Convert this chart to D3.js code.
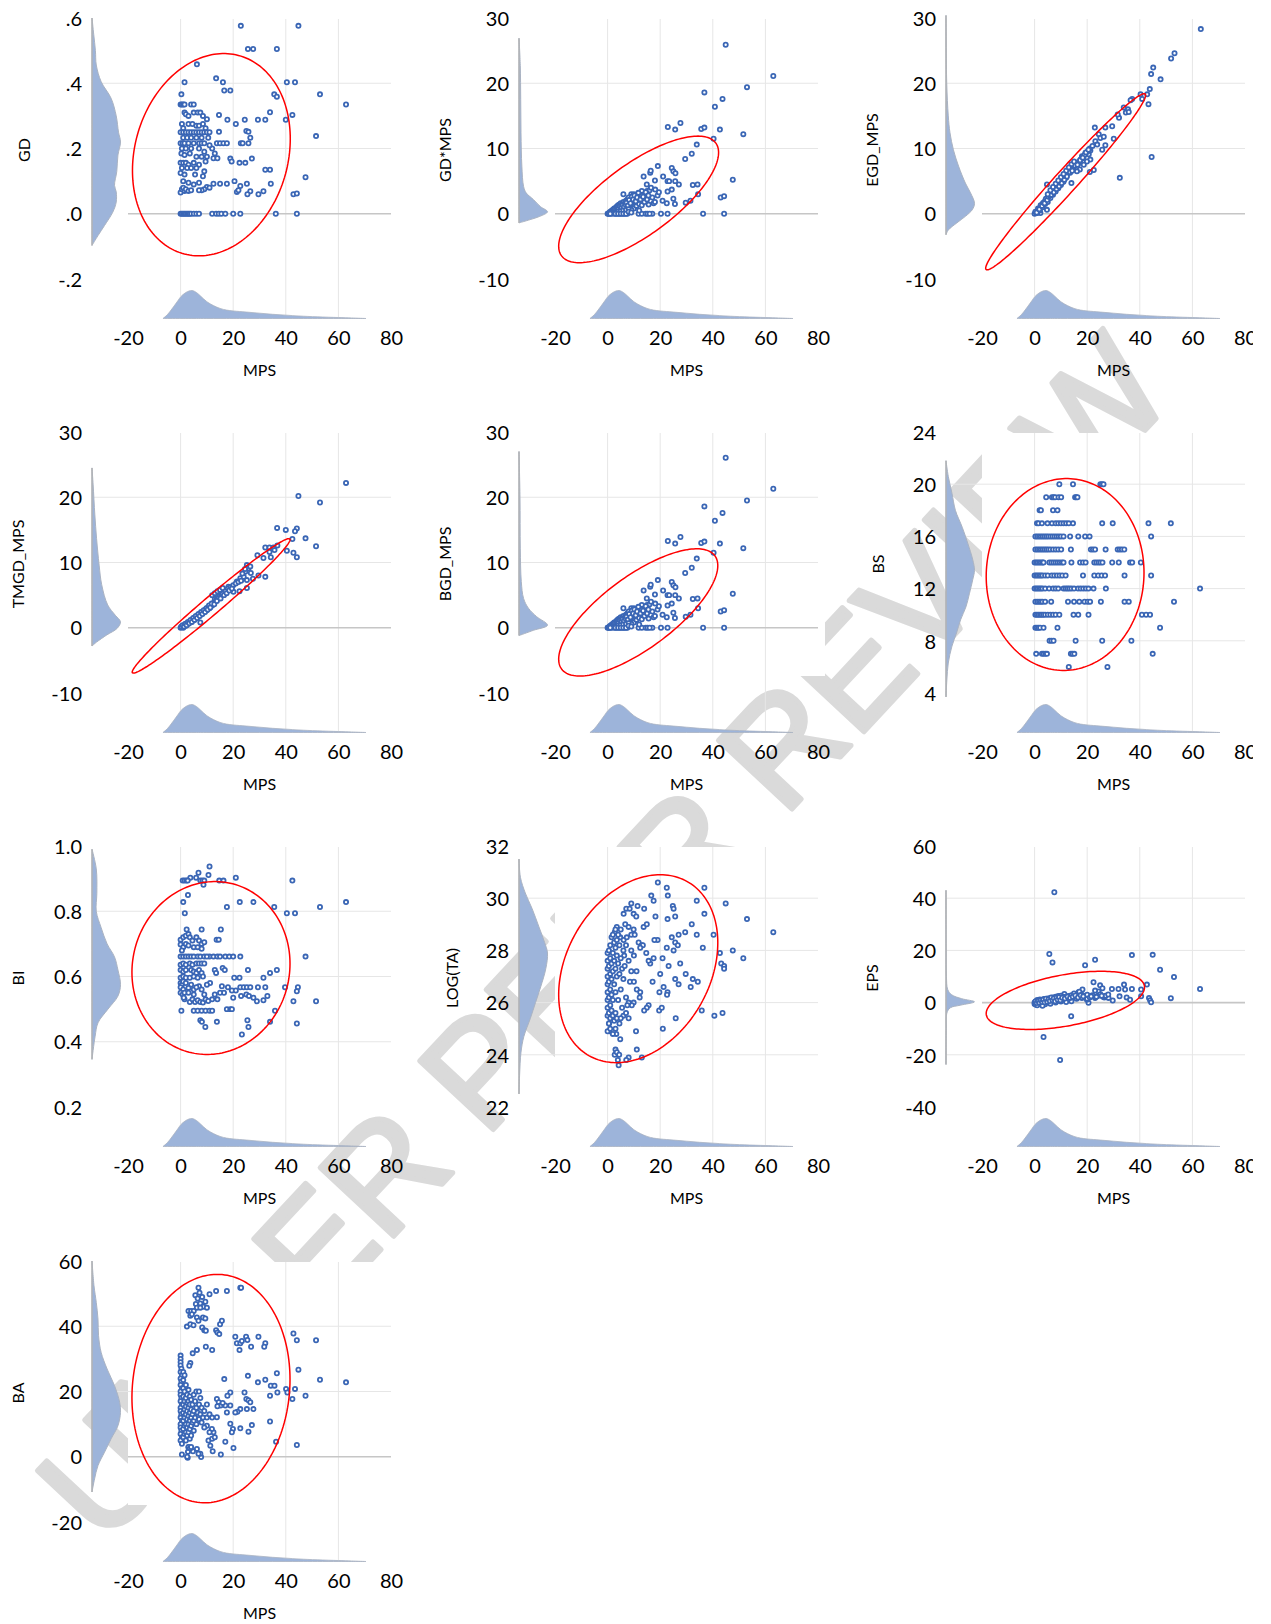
<!DOCTYPE html>
<html><head><meta charset="utf-8">
<script src="https://cdn.jsdelivr.net/npm/d3@7"></script>
<style>
body{margin:0;background:#fff}
svg{display:block}
</style>
</head><body>
<svg id="chart" width="1271" height="1624"></svg>
<script>
// ---------------- DATA ----------------
const VAR_NAMES = ["GD","GD*MPS","EGD_MPS","TMGD_MPS","BGD_MPS","BS","BI","LOG(TA)","EPS","BA"];
const X_NAME = "MPS";
const MPS_TICKS = [-20,0,20,40,60,80];

const GD_TICKS = [-0.2,0,0.2,0.4,0.6];
const GD_TICK_LABELS = ["-.2",".0",".2",".4",".6"];
const GDMPS_TICKS = [-10,0,10,20,30];
const EGD_TICKS = [-10,0,10,20,30];
const TMGD_TICKS = [-10,0,10,20,30];
const BGD_TICKS = [-10,0,10,20,30];
const BS_TICKS = [4,8,12,16,20,24];
const BI_TICKS = [0.2,0.4,0.6,0.8,1.0];
const BI_TICK_LABELS = ["0.2","0.4","0.6","0.8","1.0"];
const LOGTA_TICKS = [22,24,26,28,30,32];
const EPS_TICKS = [-40,-20,0,20,40,60];
const BA_TICKS = [-20,0,20,40,60];

// marginal density of MPS (value, relative density)
const MPS_DENSITY = [[-6.7,0],[-5,0.14],[-3,0.38],[-1,0.64],[0,0.77],[2,0.93],[4.3,1],[6,0.93],[7.5,0.81],[10,0.6],[12.5,0.46],[15,0.36],[17.5,0.3],[20,0.27],[25,0.23],[30,0.19],[35,0.15],[40,0.12],[45,0.09],[52,0.06],[60,0.035],[65,0.02],[70.5,0]];

// marginal densities of the y variables (value, relative density)
const GD_DENSITY = [[0.6,0],[0.55,0.06],[0.5,0.12],[0.456,0.15],[0.405,0.32],[0.354,0.67],[0.3,0.85],[0.25,0.93],[0.22,1],[0.18,0.91],[0.13,0.87],[0.087,0.79],[0.067,0.85],[0.036,0.85],[0.005,0.73],[-0.036,0.44],[-0.067,0.21],[-0.097,0]];
const GDMPS_DENSITY = [[26.9,0],[22.7,0.045],[17.5,0.06],[12.4,0.07],[7.3,0.1],[4.2,0.16],[3.2,0.25],[2.2,0.5],[1.1,0.75],[0.3,1],[-0.4,0.73],[-0.9,0.39],[-1.4,0]];
const EGD_DENSITY = [[30.4,0],[20.1,0.025],[15,0.08],[12.4,0.14],[9.8,0.26],[7.3,0.44],[4.7,0.68],[3.2,0.86],[1.6,1],[0.6,0.92],[-0.4,0.68],[-1.4,0.38],[-2.5,0.08],[-3.2,0]];
const TMGD_DENSITY = [[24.5,0],[21.9,0.04],[17.3,0.1],[13.7,0.16],[9.6,0.25],[6.6,0.34],[3.5,0.55],[1.9,0.82],[0.9,1],[-0.1,0.88],[-1.1,0.52],[-2.2,0.16],[-2.8,0]];
const BGD_DENSITY = [[27,0],[19.9,0.035],[12.2,0.045],[7.1,0.08],[4.5,0.16],[3,0.33],[1.7,0.62],[0.4,1],[-0.4,0.5],[-1.2,0]];
const BS_DENSITY = [[21.8,0],[20.6,0.08],[19.3,0.21],[18,0.33],[16.7,0.57],[15.5,0.76],[14.2,0.94],[13.4,1],[12.7,0.94],[11.6,0.82],[10.6,0.7],[9.6,0.51],[8.6,0.37],[7.6,0.21],[6.3,0.08],[5,0.03],[3.7,0]];
const BI_DENSITY = [[0.99,0],[0.93,0.15],[0.855,0.17],[0.8,0.15],[0.75,0.32],[0.7,0.53],[0.66,0.79],[0.62,0.91],[0.575,1],[0.54,0.91],[0.5,0.56],[0.458,0.21],[0.417,0.11],[0.346,0]];
const LOGTA_DENSITY = [[31.5,0],[30.8,0.05],[30.2,0.22],[29.6,0.46],[28.9,0.7],[28.3,0.9],[27.9,1],[27.3,0.94],[26.6,0.76],[26,0.58],[25.4,0.4],[24.7,0.17],[24.1,0.07],[23.2,0.02],[22.5,0]];
const EPS_DENSITY = [[43,0],[20,0.005],[10,0.015],[5,0.06],[3,0.2],[1.5,0.55],[0.3,1],[-1,0.5],[-2,0.15],[-4,0.03],[-10,0.01],[-23.7,0]];
const BA_DENSITY = [[60,0],[52.4,0.07],[47.3,0.15],[42.2,0.21],[37.1,0.23],[32,0.32],[26.9,0.53],[21.8,0.79],[16.7,0.97],[13.6,1],[9.5,0.91],[5.5,0.67],[1.4,0.44],[-2.7,0.21],[-6.8,0.09],[-10.8,0]];

// confidence ellipses: [centre MPS, centre Y, half-range MPS, half-range Y, correlation]
const GD_ELLIPSE = [11.7,0.181,30,0.31,0.157];
const GDMPS_ELLIPSE = [11.8,2.2,30.4,9.7,0.74];
const EGD_ELLIPSE = [11.8,4.9,30.4,13.5,0.982];
const TMGD_ELLIPSE = [11.6,3.35,30,10.3,0.985];
const BGD_ELLIPSE = [11.65,2.35,30.25,9.75,0.735];
const BS_ELLIPSE = [11.6,13.08,30,7.35,0.02];
const BI_ELLIPSE = [11.55,0.626,30.05,0.265,0.05];
const LOGTA_ELLIPSE = [11.65,27.3,30.25,3.6,0.276];
const EPS_ELLIPSE = [11.7,0.85,30.1,11.15,0.45];
const BA_ELLIPSE = [11.55,20.9,30.05,35,0.08];

// scatter points [MPS, Y]
const GD_PTS = [
[22.9,.576],[44.8,.576],[25.6,.505],[27.6,.505],[36.6,.505],[6.2,.458],[1.5,.403],[13.5,.415],[16.1,.403],[16.6,.378],[18.9,.378],[40.4,.403],[43.5,.403],[0.3,.366],[35.6,.366],[36.6,.359],[53,.366],[62.9,.335],[14.6,.303],[17.8,.288],[21,.275],[24.4,.288],[29.4,.288],[32.2,.288],[34,.311],[40,.288],[42.5,.303],[51.5,.238],[47.5,.112],[42.9,.06],[44.2,.062],[36.2,0],[44.2,0],[20,0],[22.7,0],[12,0],[13.5,0],[14.5,0],[15.5,0],[17,0],
[0,0],[0.5,0],[1,0],[1.5,0],[2,0],[2.5,0],[3,0],[3.5,0],[4,0],[5,0],[6,0],[7,0],
[14.6,.251],[25,.254],[25.8,.251],[26.5,.233],[22.9,.216],[23.6,.216],[25.8,.216],[13.8,.216],[15,.216],[16.3,.216],[17.6,.216],[18.9,.169],[19.4,.16],[22.4,.156],[24.6,.156],[27.1,.169],[32.2,.135],[34,.135],[34.3,.092],[31.5,.069],[29.6,.06],[26.5,.069],[25.4,.06],[25.2,.092],[22.7,.085],[20.5,.1],[21.4,.067],[22,.072],[17.6,.092],[15,.092],[12.5,.092],[10,.082],[11,.08],[9,.075],[8,.072],[7,.072],[13,.185],[12.5,.17],[14,.17],[12,.2],[11,.21],
[0,.335],[0.5,.335],[1,.335],[1.5,.335],[4,.335],[5,.335],
[1.5,.31],[2,.305],[3,.3],[5,.31],[6.5,.31],[7.5,.31],[8.5,.3],[10,.29],
[0.5,.275],[1,.262],[3,.275],[4.5,.275],[6,.27],[7,.27],[8.5,.275],[9.5,.262],
[0,.25],[1,.25],[2,.25],[3,.25],[4,.25],[5,.25],[6,.25],[7,.25],[8,.25],[9,.25],[10,.25],[11,.25],
[1,.233],[2.5,.233],[4,.233],[6,.233],[8,.233],[10.5,.233],
[0,.216],[0.8,.216],[1.5,.216],[3,.216],[5,.216],[7,.216],[8,.216],[9,.216],
[0.5,.2],[2,.2],[4,.2],[7,.2],[9,.19],
[0.3,.185],[1.5,.18],[3.5,.185],[6,.175],[8,.175],[10,.175],
[0,.156],[1,.156],[2,.156],[3,.15],[5,.156],[7,.15],[9.5,.16],
[0.5,.14],[2.5,.14],[4,.14],[6,.14],[9,.13],
[0,.125],[1.5,.12],[5.5,.12],[8.5,.115],
[1,.1],[3,.095],[5,.09],[7,.095],
[0,.065],[0.5,.075],[1,.08],[1.5,.07],[2,.075],[3,.07],[4,.072]
];

const GDMPS_PTS = [
[44.9,25.9],[63,21.1],[53,19.4],[36.8,18.6],[43.7,17.6],[40.8,16.4],[27.7,13.9],[22.9,13.3],[25.7,12.9],[35.6,13],[36.8,13.2],[42.7,12.9],[51.6,12.2],[40.3,11.5],[33.9,10.6],[32,9.2],[29.5,8.4],[47.6,5.2],[43,2.5],[44.3,2.7],[36.3,0],[44.3,0],[32.4,4.4],[34.2,4.5],[34.4,3],[31.5,2],[29.7,1.7],[27.1,4.5],[25.7,5],[24.4,7],[25,6.5],[25.8,6.2],[22.8,5],[23.4,5],[21.1,5.7],[19.1,7.3],[18,5.1],[16.2,6.3],[16.4,6.6],[13.7,5.7],[14.9,4.5],[22.8,3.4],[24.4,3.7],[25,2.3],[25.6,1.5],[22.5,1.6],[20.9,2],[19,2.8],[19.5,3.3],[17.5,1.6],[15.6,1.4],[18.1,3.7],[17,0],[20.3,0],[22.8,0],[11.8,0],[13,0],[14.5,0],[15.2,0],[16,0],
[0,0],[0.5,0.05],[1,0.1],[1,0.3],[1.5,0.2],[1.5,0.45],[2,0.3],[2,0.6],[2.5,0.5],[2.5,0.8],[3,0.4],[3,0.9],[3.5,0.7],[3.5,1.1],[4,0.5],[4,1],[4,1.3],[4.5,0.9],[4.5,1.4],[5,0.7],[5,1.2],[5,1.6],[5.5,1],[5.5,1.5],[6,0.8],[6,1.3],[6,1.8],[6.5,1.1],[6.5,1.6],[7,1.2],[7,2],[7.5,1.5],[7.5,2.2],[8,1.1],[8,1.8],[8,2.5],[8.5,2],[9,1.5],[9,2.3],[9,3],[9.5,2.7],[10,2],[10,2.5],[10,3],[11,2.2],[11,2.8],[12,2.5],[12,3.1],[13,2.8],[13,3.5],[14,3],[15,3.5],[16,3.6],[16.5,4],[6,3],[0.5,0],[1.5,0],[2.5,0],[3.5,0],[4.5,0],[5.5,0],[6.5,0],[7.5,0],[10,0.8],[11,1.2],[12,1.5],[13,1.3],[14,1.8],[15,2.2],[17,2.5],[18,1.8],[12,0.5],[9,0.6],
[0.2,0.02],[0.7,0.15],[1.2,0.2],[1.7,0.35],[2.2,0.4],[2.7,0.65],[3.2,0.6],[3.7,0.9],[4.2,0.75],[4.7,1.15],[5.2,0.95],[5.7,1.3],[6.2,1.05],[6.7,1.45],[7.2,1.7],[7.7,1.25],[8.2,2.1],[8.7,1.6],[9.2,2.6],[9.7,2.2],[10.2,2.8],[10.7,1.9],[11.2,2.5],[11.7,3.2],[12.5,2.2],[13.5,2.6],[14.5,3.3],[15.5,2.8],[3,0.2],[4,0.3],[5,0.4],[6,0.5],[7,0.6],[8,0.7],[2,0.1],[1,0],[3,0],[4,0],[5,0],[6,0],[7,0],[8,0.3],[9,0.2]
];

const EGD_PTS = [
[63.2,28.3],[53.2,24.6],[51.9,23.8],[45.1,22.4],[44.3,21.4],[47.9,20.6],[40.3,18.3],[40.9,17.6],[42.8,18.3],[43.8,19.1],[43.3,16.8],[44.5,8.7],[32.4,5.5],[37.1,17.6],[36.5,17.4],[35.5,16],[33.9,16.3],[34.7,15.5],[35.8,15.6],[32.1,14.7],[31.6,15.2],[29.5,13.4],[26.9,13.2],[22.9,13.2],[24.4,12.2],[25,11.6],[26.3,11.8],[30.1,11.5],[26.9,10.5],[25.7,9.8],[23.1,11.1],[23.8,10.6],[21.2,9.7],[20.6,9.1],[19.3,9.3],[21.2,8.3],[22.5,6.7],[21,6.4],[19.9,8],[18.7,7.5],[17.2,6.8],[16.1,6.5],[14,4.7],[4.7,4.5],[2.2,0.1],[4.7,0.6],
[0,0],[0.5,0.2],[1,0.4],[1,0.1],[1.5,0.6],[2,0.9],[2,0.5],[2.5,1],[3,1.5],[3,1],[3.5,1.5],[4,2],[4,1.5],[4.5,2.2],[5,2.5],[5,1.8],[5.5,2.7],[6,3],[6,2.4],[6.5,3.2],[7,3.5],[7,2.9],[7.5,3.6],[8,4],[8,3.4],[8.5,4.1],[9,4.5],[9,3.9],[9.5,4.6],[10,5],[10,4.4],[10.5,5.2],[11,5.5],[11,4.9],[12,6],[12,5.5],[12.5,6.2],[13,6.5],[13.5,6.3],[14,7],[14.5,6.8],[15,7.2],[15.5,7.5],[16,7.8],[16.5,7.6],[17,8],[17.5,8.3],[18,8.8],[18.5,8.5],[19,9],[20,9.5],[21,10],[22,10.4],
[0.3,0.3],[0.8,0.2],[1.3,0.8],[1.8,0.7],[2.3,1.3],[2.8,1.2],[3.3,1.7],[3.8,1.6],[4.3,2.3],[4.8,2.1],[5.3,2.6],[5.8,2.8],[6.3,2.9],[6.8,3.4],[7.3,3.3],[7.8,3.9],[8.3,3.8],[8.8,4.3],[9.3,4.2],[9.8,4.8],[10.3,4.7],[10.8,5.3],[11.3,5.2],[11.8,5.8],[12.3,5.7],[13.3,6.4],[14.3,6.6],[15.3,7.4],[16.3,7.5],[17.3,8.2],[18.3,8.6],[19.5,9.4],[20.5,9.8],[6,3.6],[8,4.6],[10,5.6],[12,6.6],[14,7.6],[5,3],[7,4.1],[9,5.1],[11,6.1],[13,7.1],[15,8]
];

const TMGD_PTS = [
[62.9,22.2],[44.8,20.2],[53,19.2],[36.7,15.3],[40,15],[44.2,15.2],[43.5,14.8],[47.5,13.7],[42.5,13.6],[51.5,12.5],[40.4,11.8],[42.9,11.5],[44.2,10.8],[32.2,12.3],[33.8,12.3],[35.3,12.3],[36.8,12.6],[33.8,11.6],[35.7,11.9],[29.2,11.1],[31.5,10.7],[34.3,10.8],[32.2,7.8],[29.6,8],[25.2,9.6],[25.8,9.1],[26.5,9.4],[24.6,8.6],[26.7,8.4],[25.2,7.3],[27.5,7.5],[22.7,7.6],[21.4,7.1],[25.2,6.1],[22.4,5.6],[20.1,5.5],[18.2,6.3],[18.9,5.8],[16.3,5.5],[15,5.8],[13.8,5.3],[7.5,0.8],
[0,0],[0.5,0.1],[1,0.3],[1,0],[1.5,0.4],[2,0.5],[2,0.3],[2.5,0.7],[3,0.8],[3,0.6],[3.5,1],[4,1.1],[4,0.9],[4.5,1.3],[5,1.4],[5,1.2],[5.5,1.6],[6,1.7],[6,1.5],[6.5,1.9],[7,2],[7,1.8],[7.5,2.2],[8,2.3],[8,2.1],[8.5,2.4],[9,2.6],[9,2.4],[9.5,2.8],[10,3],[10,2.7],[10.5,3.1],[11,3.3],[11,3],[11.5,3.4],[12,3.6],[12,3.4],[12.5,3.8],[13,4],[13,4.4],[13.5,4.2],[14,4.5],[14,4.8],[14.5,4.6],[15,4.9],[15.5,5.2],[16,5.2],[17,5.6],[18,6],[19,6.2],[20,6.5],[21,6.8],[22,7],[23,7.2],[12,5],[13,5.3],[14,5.6],[15,5.8],[16,6.1],
[0.3,0.2],[0.8,0.4],[1.3,0.2],[1.8,0.6],[2.3,0.4],[2.8,0.9],[3.3,0.7],[3.8,1.2],[4.3,0.9],[4.8,1.5],[5.3,1.2],[5.8,1.8],[6.3,1.5],[6.8,2.1],[7.3,1.8],[7.8,2.4],[8.3,2.1],[8.8,2.7],[9.3,2.4],[9.8,3],[10.3,2.8],[10.8,3.4],[11.3,3.1],[11.8,3.7],[12.8,3.6],[13.8,4.1],[15.2,4.5],[16.5,5],[17.5,5.3],[18.5,5.7],[19.5,6],[24,7.8],[23.5,8.3],[24.5,9]
];

const BGD_PTS = [
[44.9,26.05],[63,21.3],[53,19.5],[36.8,18.6],[43.7,17.6],[40.8,16.4],[27.7,13.9],[22.9,13.3],[25.7,12.9],[35.6,13],[36.8,13.2],[42.7,12.9],[51.6,12.2],[40.3,11.5],[33.9,10.6],[32,9.2],[29.5,8.4],[47.6,5.2],[43,2.5],[44.3,2.7],[36.3,0],[44.3,0],[32.4,4.4],[34.2,4.5],[34.4,3],[31.5,2],[29.7,1.7],[27.1,4.5],[25.7,5],[24.4,7],[25,6.5],[25.8,6.2],[22.8,5],[23.4,5],[21.1,5.7],[19.1,7.3],[18,5.1],[16.2,6.3],[16.4,6.6],[13.7,5.7],[14.9,4.5],[22.8,3.4],[24.4,3.7],[25,2.3],[25.6,1.5],[22.5,1.6],[20.9,2],[19,2.8],[19.5,3.3],[17.5,1.6],[15.6,1.4],[18.1,3.7],[17,0],[20.3,0],[22.8,0],[11.8,0],[13,0],[14.5,0],[15.2,0],[16,0],
[0,0],[0.5,0.05],[1,0.1],[1,0.3],[1.5,0.2],[1.5,0.45],[2,0.3],[2,0.6],[2.5,0.5],[2.5,0.8],[3,0.4],[3,0.9],[3.5,0.7],[3.5,1.1],[4,0.5],[4,1],[4,1.3],[4.5,0.9],[4.5,1.4],[5,0.7],[5,1.2],[5,1.6],[5.5,1],[5.5,1.5],[6,0.8],[6,1.3],[6,1.8],[6.5,1.1],[6.5,1.6],[7,1.2],[7,2],[7.5,1.5],[7.5,2.2],[8,1.1],[8,1.8],[8,2.5],[8.5,2],[9,1.5],[9,2.3],[9,3],[9.5,2.7],[10,2],[10,2.5],[10,3],[11,2.2],[11,2.8],[12,2.5],[12,3.1],[13,2.8],[13,3.5],[14,3],[15,3.5],[16,3.6],[16.5,4],[6,3],[0.5,0],[1.5,0],[2.5,0],[3.5,0],[4.5,0],[5.5,0],[6.5,0],[7.5,0],[10,0.8],[11,1.2],[12,1.5],[13,1.3],[14,1.8],[15,2.2],[17,2.5],[18,1.8],[12,0.5],[9,0.6],
[0.2,0.02],[0.7,0.15],[1.2,0.2],[1.7,0.35],[2.2,0.4],[2.7,0.65],[3.2,0.6],[3.7,0.9],[4.2,0.75],[4.7,1.15],[5.2,0.95],[5.7,1.3],[6.2,1.05],[6.7,1.45],[7.2,1.7],[7.7,1.25],[8.2,2.1],[8.7,1.6],[9.2,2.6],[9.7,2.2],[10.2,2.8],[10.7,1.9],[11.2,2.5],[11.7,3.2],[12.5,2.2],[13.5,2.6],[14.5,3.3],[15.5,2.8],[3,0.2],[4,0.3],[5,0.4],[6,0.5],[7,0.6],[8,0.7],[2,0.1],[1,0],[3,0],[4,0],[5,0],[6,0],[7,0],[8,0.3],[9,0.2]
];

// BS is an integer count: rows of [BS, MPS values]
const BS_ROWS = [
[20,[9.4,14.6,25,25.6,26.2]],
[19,[4.4,6.6,7.2,7.8,9.1,10.1,15.4,15.8,16.3]],
[18,[1.9,2.4,7,8.7]],
[17,[0.9,1.5,2.8,4.9,6.6,8,9,10,11,12,13,14.6,25.7,29.7,43.3,51.8]],
[16,[0.3,1,1.7,2.4,3.1,3.8,4.5,5.2,6,6.8,7.6,8.4,9.2,10,11,13.5,16.6,19.2,20.9,44.3]],
[15,[0.3,1,1.7,2.4,3.1,3.8,4.5,5.2,6,7,8,9,10.1,13.8,21.4,22.2,23,27,31.6,32.4,33.2,34.1]],
[14,[0,0.6,1.2,1.8,2.4,3,3.4,5.6,6.4,7.2,8,8.8,9.6,10.4,11,14,17.3,18.4,19.4,22.7,23.5,24.3,25,25.8,29.5,32,36.3,37.1,40.4]],
[13,[0,0.6,1.2,1.8,2.4,3,4,5,6.5,7.5,8.5,9.5,10.5,11.8,18.4,22.7,24.2,25.5,26.8,34.2,44.3]],
[12,[0,0.6,1.2,1.8,2.4,3,4,5.5,7,8,9,11,11.8,12.5,13.2,14,15,16.5,17.5,18.5,19.5,20.5,22.4,27.1,62.9]],
[11,[0.3,1,1.7,2.4,3,4,6.3,12.7,15,17,19,20.2,21.1,25.2,34.2,35.8,53]],
[10,[0.3,0.9,1.5,2.1,2.7,3.3,4,5,6,7,8,9.4,14.8,16.6,20.5,40.8,42.4,43.9]],
[9,[0.3,0.9,1.5,2.1,3.4,8.7,47.7]],
[8,[5.7,6.4,7.2,15.6,25.7,36.8]],
[7,[0.6,2.8,3.4,4.1,4.7,13.8,14.4,15.1,44.9]],
[6,[13,27.7]]
];

const BI_PTS = [
[11,.937],[6.8,.918],[5.9,.903],[3.7,.903],[0.8,.894],[1.5,.894],[2.2,.894],[2.7,.894],[7.5,.894],[8.3,.894],[9,.894],[10.6,.911],[8.7,.881],[14.7,.894],[16.3,.894],[21,.903],[42.5,.894],[2.8,.85],[1,.828],[1.6,.794],[17.6,.813],[22.5,.828],[27.7,.828],[35.6,.813],[40.4,.794],[43.5,.794],[53,.813],[62.9,.828],[2.3,.744],[8,.744],[15.3,.744],[47.5,.661],[22.7,.661],[11,.661],[12.5,.661],[14,.661],[15,.661],[17,.661],[18.5,.661],[20,.661],[13.7,.713],[14.5,.713],[25.6,.62],[20.4,.596],[22.4,.596],[31.5,.596],[34,.611],[36.6,.62],[39.7,.567],[44.6,.567],[44.2,.555],[42.9,.524],[51.5,.524],[35.9,.495],[34,.461],[44.2,.456],[25.4,.466],[25.8,.445],[23.3,.422],[13.8,.461],[7.5,.466],[8.1,.461],[9.4,.445],
[22.7,.567],[24,.567],[25.2,.567],[26.5,.567],[29.4,.567],[32.2,.567],[18,.567],[19.5,.557],[21,.557],
[23,.54],[25,.545],[26,.54],[27.7,.535],[29,.524],[31.5,.527],[33,.54],[20,.535],[16.5,.55],[15,.55],[14,.53],[12,.53],[13,.545],
[17.6,.5],[18.9,.5],[19.5,.5],[5,.495],[6.5,.495],[8,.495],[9.5,.495],[11,.495],[12,.495],[0.3,.495],
[16,.626],[16.8,.62],[13,.62],[13.5,.611],[15.7,.57],[11.2,.58],
[0,.713],[1,.72],[2,.725],[3,.73],[3.5,.72],[4.5,.71],[6,.72],[7,.71],[8,.7],[9,.705],
[0,.698],[1,.69],[2,.7],[3,.695],[5,.69],[6.5,.69],[8,.685],[0.5,.68],
[0,.661],[1,.661],[2,.661],[3,.661],[4,.661],[5,.661],[6.5,.661],[7.5,.661],[9,.661],[10,.661],
[0,.636],[1,.64],[2,.636],[3.5,.64],[4.5,.636],[6,.64],[7,.64],[8,.64],[9,.64],
[0,.62],[1,.615],[2,.62],[4,.62],[5,.615],[6,.611],[7,.62],[8,.611],
[0,.596],[1,.6],[2,.596],[3.5,.596],[5,.6],[6.5,.596],[8.5,.6],
[0,.58],[0.5,.575],[1,.585],[2,.58],[4,.575],[7,.57],[10,.575],
[0,.567],[1,.56],[3,.565],[5,.56],[6,.567],[8,.56],
[0,.55],[0.8,.545],[1.5,.55],[3,.55],[5,.545],[9,.545],
[1.5,.53],[3.5,.522],[4.5,.53],[5.5,.522],[6.5,.527],[7.5,.522],[8.5,.52],[9.5,.53],[10.5,.525],[1.2,.535]
];

const LOGTA_PTS = [
[19.1,30.6],[22.5,30.4],[22.9,30.1],[36.8,30.4],[16.6,30.1],[17.5,29.9],[33.9,29.9],[44.9,29.8],[36.8,29.4],[53,29.2],[63,28.7],[24.8,29.7],[25.1,29.6],[22.8,29.2],[25.7,29.3],[18.2,29.3],[32,29],[29.5,28.7],[27,28.6],[24.4,28.5],[19,28.4],[17.8,28.4],[33.9,28.6],[40.3,28.6],[25.7,28.3],[26.7,28.2],[22.5,28.1],[25.1,28],[36.2,28.1],[47.6,28],[42.7,27.9],[51.6,27.7],[43.2,27.5],[44.3,27.4],[44.3,27.3],[27.6,27.5],[23.2,27.4],[20.9,27.7],[17.5,27.7],[16.2,27.5],[15.6,27.6],[14.7,27.9],[20,27.1],[29.7,27.1],[32.4,26.9],[34.3,26.8],[31.6,26.6],[25.7,26.9],[27,26.7],[21.3,26.6],[22.8,26.4],[22.6,26.3],[19.7,26.4],[17.1,26.8],[12.2,26.2],[11.1,26.5],[12.4,26.4],[9.9,26],[9.2,25.9],[8,26],[15.6,25.9],[14.9,25.8],[13.9,25.7],[19.6,25.7],[20.6,25.8],[35.8,25.7],[40.6,25.5],[43.7,25.6],[25.9,25.4],[21,25],[10.8,24.9],[11.1,24.2],[13,23.9],[8,23.9],[7.1,23.8],[4.8,24.6],[3.3,24.8],[0.6,24.9],[0.6,25.2],[3,24.2],[2.7,24],[3.5,24.1],[4.4,24],[3.9,23.8],[4.2,23.6],
[7.1,29.6],[8.4,29.6],[6.1,29.4],[9.9,29.4],[10.9,29.3],[9,29.8],[11.4,29.7],[13.9,29.6],[6.7,29],[8,28.9],[9.9,28.8],[3.5,28.9],[2.7,28.7],[4.8,28.5],[6.1,28.4],[7.3,28.5],[9,28.6],[10.3,28.6],[13.7,28.9],[14.9,29],[11.8,28.3],[13,28.2],[13.4,28.2],[12.4,28.1],[9,28],[6.3,27.8],
[0,25.5],[0,25.8],[0,26.1],[0,26.4],[0,26.7],[0,27],[0,27.3],[0,27.6],[0,27.9],[0.5,25.6],[0.5,26.2],[0.5,26.8],[0.5,27.4],[0.5,28],[1,25.4],[1,25.9],[1,26.5],[1,27.1],[1,27.7],[1,28.2],[1.5,25.7],[1.5,26.3],[1.5,26.9],[1.5,27.5],[1.5,28.5],[2,25.5],[2,26.1],[2,27.2],[2,27.9],[2,28.6],[2.5,25.3],[2.5,26.7],[2.5,27.6],[2.5,28.3],[3,25.6],[3,26.4],[3,27.3],[3,28.1],[3,28.8],[3.5,25.4],[3.5,27],[3.5,27.8],[3.5,28.4],[4,26.1],[4,27.5],[4,28.6],[4.5,25.2],[4.5,27.1],[4.5,28.2],[5,26.5],[5,27.7],[5,28.8],[5.5,25.8],[5.5,27.3],[6,26.9],[6,28],[6.5,27.4],[7,26.2],[7,28.2],[7.5,25.9],[8,27.6],[8.5,26.8],[9,27.2],[10,26.8],[10,27.8],[11,27.2],[6,25.5],[7,25.6],[8,25.4],[0,24.9],[0.5,25.2],[1,25],[2,24.8],[3,25],[5,25.4]
];

const EPS_PTS = [
[7.5,42.3],[5.6,18.6],[6.8,15.4],[19.2,14.3],[23,16.4],[37,18.2],[44.9,18.3],[47.7,12.6],[53,9.8],[62.9,5.2],[51.8,1.7],[42.7,6.9],[40.5,5],[40.5,2.4],[34,6.9],[34.4,5],[37,5.2],[31.9,5.2],[29.4,5.2],[29.7,0.8],[22.4,7.8],[24.9,6.6],[24.3,4.3],[23,4.6],[25.8,5.5],[18.2,5],[16.7,4],[11.3,3.3],[13.9,-5.2],[3.4,-13.2],[9.7,-22],[43.5,1.8],[43.9,0.9],[44.3,0.1],[35,2],[36.3,1.1],[32.3,2.4],[26.5,2],[27.3,2.2],[28.1,1.8],[20.5,-0.1],[19.9,1.1],
[0,0],[0,-0.5],[0.5,0.5],[0.5,-0.8],[1,0.2],[1,1],[1.5,-0.3],[1.5,0.8],[2,0.3],[2,1.2],[2.5,-0.5],[2.5,0.6],[3,0.9],[3,-0.2],[3.5,0.4],[3.5,1.4],[4,0.8],[4,-0.6],[4.5,1.2],[5,0.5],[5,1.6],[5.5,1],[6,0.3],[6,1.8],[6.5,1.2],[7,0.6],[7,2],[7.5,1.4],[8,0.9],[8,2.2],[8.5,1.5],[9,0.7],[9,2.5],[9.5,1.8],[10,1.2],[10,2.6],[11,1.4],[11,2.2],[12,1.8],[12,0.8],[13,2.5],[13,1.2],[14,2.8],[14,1.6],[15,2],[15,3.5],[16,1.5],[16,2.6],[17,2.2],[17,4.2],[18,1.8],[18,3],[19,2.5],[20,1.5],[20,3],[21,2],[22,2.8],[23,1.8],[24,2.5],[25,3.2],[26,2.2],[27,2.6],[28,3.1],[2,0],[4,0.2],[6,-0.4],[8,0],[10,0.4],[12,0.2],[14,0.5],[1,-1],[3,-1.2],
[0.3,0.4],[0.8,-0.2],[1.3,0.6],[1.8,-0.1],[2.3,0.9],[2.8,0.2],[3.3,1.1],[3.8,0.1],[4.3,1.5],[4.8,0.3],[5.3,1.3],[5.8,0.6],[6.3,2],[6.8,0.9],[7.3,1.7],[7.8,0.5],[8.3,1.9],[8.8,1.1],[9.3,2.1],[9.8,0.9],[10.5,1.9],[11.5,1.6],[12.5,2.3],[13.5,1.8],[14.5,2.2],[15.5,2.7],[16.5,2],[17.5,2.8],[18.5,2.4],[21.5,2.4],[23.5,2.2],[25.5,2.6]
];

const BA_PTS = [
[6.8,51.8],[5.6,49.5],[6.5,48.5],[7.2,50.3],[8.2,49],[9.4,47.5],[5.8,46.8],[7.5,47],[8.7,46],[13.5,50.8],[17.6,50.8],[22.7,51.8],[23,51.8],[11,49.8],[10,45.7],[6.2,45.7],[7.5,45.7],[3,44.7],[4,44.7],[5,44.7],[3.7,43.2],[4.3,43.7],[6.2,42.7],[8.5,42.7],[9.4,42.4],[6.8,41.7],[2.4,39.9],[3.7,40.6],[4.9,40.3],[8.2,39.6],[9,38.8],[9.6,38.6],[15,40.6],[15.7,41.7],[13.5,38.8],[14,38.1],[14.7,37.6],[20.8,36.8],[21.4,34.8],[22.7,34.8],[23.3,35.5],[24.9,36.8],[25.4,35.8],[26.8,33.7],[22.4,32.7],[29.6,36.8],[32.2,34.8],[31.8,33.7],[42.9,37.8],[44.2,35.7],[51.5,35.7],[6.2,32.7],[4.6,31.7],[9.6,33.7],[12,32.7],[3.7,28.7],[3.3,27.9],
[25.6,24.8],[16.6,23.8],[36.6,25.6],[44.8,26.7],[53,23.6],[62.9,22.8],[29.4,22.8],[32.2,23.6],[34.3,21.8],[35.7,21.8],[40.1,20.8],[43.5,20.8],[36.8,19.7],[40.6,19.7],[34,18.7],[47.5,18.7],[42.5,17.7],[24.3,19.7],[18.9,19.7],[17.8,18.7],[18.9,15.7],[25,17.7],[25.8,17.3],[26.5,16.7],[25.2,14.6],[27.7,14.6],[22.7,14.6],[21.6,13.8],[20.8,13.6],[17,15.7],[17.6,13.6],[13.8,17.7],[14.5,16.7],[15.2,15.7],[34,10.8],[27.1,9.7],[25.8,7.7],[22.7,8.7],[19.9,8.5],[19.5,7.5],[18.9,10.1],[17,4.6],[20.1,2.7],[36.3,4.6],[44.2,3.6],[15.3,0.7],[12.2,1.7],[11.3,3.4],[10.6,5],[12.5,7.5],[11.9,8.5],[10,9.5],[13.8,12.1],[7.8,-0.1],[7.5,0.9],[6.8,0.9],[6.2,2.4],[4.7,1.7],[2.7,-0.3],[0.5,0.7],[3,2.9],[3.7,2.6],
[0,31],[0,30],[0,29],[0,28],[0.3,27],[0,26],[0.5,25],[0,24],[0.3,23],[0,22],[0.5,21],[0,20],[0,19],[0.3,18],[0,17],[0.5,16],[0,15],[0,14],[0.3,13],[0,12],[0.5,11],[0,10],[0,9],[0.3,8],[0,7],[0.5,6],[0,5],[0.5,4],[1,26],[1,23.5],[1,21],[1,18.5],[1,16],[1,13.5],[1,11],[1,8.5],[1,6],[1.5,25],[1.5,20],[1.5,17],[1.5,14.5],[1.5,12],[1.5,9.5],[1.5,7],[2,22],[2,18],[2,15.5],[2,13],[2,10],[2,7.5],[2,5],[2.5,19],[2.5,16.5],[2.5,14],[2.5,11.5],[2.5,9],[2.5,6.5],[3,20.5],[3,17],[3,15],[3,12.5],[3,10],[3,7.5],[3,3],[3.5,18.5],[3.5,16],[3.5,13.5],[3.5,11],[3.5,8.5],[3.5,5.5],[4,17.5],[4,14.5],[4,12],[4,9.5],[4,6.5],[4.5,16],[4.5,13],[4.5,10.5],[5,19],[5,14],[5,11],[5,8],[5.5,17],[5.5,12],[6,20],[6,15],[6,10],[6.5,13.5],[7,20],[7,16],[7,11.5],[7.5,18],[7.5,13],[8,15],[8,10.5],[8.5,12],[9,14],[9,9],[10,16],[10,12],[11,13],[11,7.5],[12,12],[12,5.5],[13,6],[14,15.5],[16,16.5],[3.5,2.5],[2.8,1.5],[2.5,0],[4,3]
];

const WATERMARK = "UNDER PEER REVIEW";

// ---------------- LAYOUT ----------------
const COL_X = [0,427,854];
const ROW_Y = [0,414,828,1243];
const YTITLE_X = [24,18,18,18,18,24,18,25,18,18];
const BS_PTS = BS_ROWS.flatMap(([v, xs]) => xs.map(m => [m, v]));

const panels = [
  {name:VAR_NAMES[0], ticks:GD_TICKS, labels:GD_TICK_LABELS, dens:GD_DENSITY, ell:GD_ELLIPSE, pts:GD_PTS},
  {name:VAR_NAMES[1], ticks:GDMPS_TICKS, dens:GDMPS_DENSITY, ell:GDMPS_ELLIPSE, pts:GDMPS_PTS},
  {name:VAR_NAMES[2], ticks:EGD_TICKS, dens:EGD_DENSITY, ell:EGD_ELLIPSE, pts:EGD_PTS},
  {name:VAR_NAMES[3], ticks:TMGD_TICKS, dens:TMGD_DENSITY, ell:TMGD_ELLIPSE, pts:TMGD_PTS},
  {name:VAR_NAMES[4], ticks:BGD_TICKS, dens:BGD_DENSITY, ell:BGD_ELLIPSE, pts:BGD_PTS},
  {name:VAR_NAMES[5], ticks:BS_TICKS, dens:BS_DENSITY, ell:BS_ELLIPSE, pts:BS_PTS},
  {name:VAR_NAMES[6], ticks:BI_TICKS, labels:BI_TICK_LABELS, dens:BI_DENSITY, ell:BI_ELLIPSE, pts:BI_PTS},
  {name:VAR_NAMES[7], ticks:LOGTA_TICKS, dens:LOGTA_DENSITY, ell:LOGTA_ELLIPSE, pts:LOGTA_PTS},
  {name:VAR_NAMES[8], ticks:EPS_TICKS, dens:EPS_DENSITY, ell:EPS_ELLIPSE, pts:EPS_PTS},
  {name:VAR_NAMES[9], ticks:BA_TICKS, dens:BA_DENSITY, ell:BA_ELLIPSE, pts:BA_PTS}
];

const FONT = "Lato, 'Liberation Sans', Arial, sans-serif";
const PT_COLOR = "#3a66b5";
const DENS_FILL = "#9db4da";
const DENS_STROKE = "#aab3c2";

const svg = d3.select("#chart");
svg.append("defs").append("clipPath").attr("id","pageclip")
  .append("rect").attr("x",0).attr("y",0).attr("width",1253).attr("height",1624);
const root = svg.append("g").attr("clip-path","url(#pageclip)");

// watermark (behind the charts)
root.append("text")
  .attr("transform","translate(640,972) rotate(-47)")
  .attr("text-anchor","middle")
  .style("font-family","'Liberation Sans', Arial, sans-serif")
  .style("font-size","146px")
  .attr("fill","#dadada")
  .attr("stroke","#dadada")
  .attr("stroke-width",5)
  .attr("stroke-linejoin","round")
  .text(WATERMARK);

panels.forEach((p, i) => {
  const col = i % 3, row = Math.floor(i / 3);
  const g = root.append("g").attr("transform", `translate(${COL_X[col]},${ROW_Y[row]})`);
  const x = d3.scaleLinear().domain([MPS_TICKS[0], MPS_TICKS[MPS_TICKS.length-1]]).range([128,391]);
  const y = d3.scaleLinear().domain([p.ticks[0], p.ticks[p.ticks.length-1]]).range([279,18]);

  // white plot background
  g.append("rect").attr("x",128).attr("y",19).attr("width",270).attr("height",243).attr("fill","#fff");

  // vertical gridlines
  g.append("g").selectAll("line").data(MPS_TICKS.slice(1,-1)).join("line")
    .attr("x1", d => x(d)).attr("x2", d => x(d)).attr("y1",19).attr("y2",319)
    .attr("stroke","#e6e6e6").attr("stroke-width",1);
  // horizontal gridlines on interior ticks
  const inner = p.ticks.slice(1,-1);
  g.append("g").selectAll("line").data(inner.filter(t => t !== 0)).join("line")
    .attr("x1",92).attr("x2",391).attr("y1", d => y(d)).attr("y2", d => y(d))
    .attr("stroke","#e6e6e6").attr("stroke-width",1);
  if (inner.includes(0)) {
    g.append("line").attr("x1",128).attr("x2",391).attr("y1",y(0)).attr("y2",y(0))
      .attr("stroke","#c6c6c6").attr("stroke-width",1.6);
  }

  // left marginal density
  const DW = 28.5;
  const leftArea = d3.area().curve(d3.curveCatmullRom)
    .y(d => y(d[0])).x0(92).x1(d => 92 + d[1]*DW);
  g.append("path").datum(p.dens).attr("d", leftArea)
    .attr("fill", DENS_FILL).attr("stroke", DENS_STROKE).attr("stroke-width",1);
  g.append("line").attr("x1",92).attr("x2",92)
    .attr("y1", y(d3.max(p.dens, d => d[0]))).attr("y2", y(d3.min(p.dens, d => d[0])))
    .attr("stroke","#b3b3b3").attr("stroke-width",1.3);

  // bottom marginal density
  const bottomArea = d3.area().curve(d3.curveCatmullRom)
    .x(d => x(d[0])).y0(318.5).y1(d => 318.5 - d[1]*28);
  g.append("path").datum(MPS_DENSITY).attr("d", bottomArea)
    .attr("fill", DENS_FILL).attr("stroke", DENS_STROKE).attr("stroke-width",0.8);

  // points
  g.append("g").selectAll("circle").data(p.pts).join("circle")
    .attr("cx", d => x(d[0])).attr("cy", d => y(d[1])).attr("r",2.1)
    .attr("fill","#fff").attr("stroke",PT_COLOR).attr("stroke-width",1.8);

  // confidence ellipse
  const [cx, cy, ax, ay, r] = p.ell;
  const ts = d3.range(0, 2*Math.PI, Math.PI/90);
  const ellPts = ts.map(t => [cx + ax*Math.cos(t), cy + ay*(r*Math.cos(t) + Math.sqrt(1-r*r)*Math.sin(t))]);
  g.append("path").datum(ellPts)
    .attr("d", d3.line().x(d => x(d[0])).y(d => y(d[1])).curve(d3.curveLinearClosed))
    .attr("fill","none").attr("stroke","#ff0000").attr("stroke-width",1.5);

  // axes (labels only)
  const xAxis = d3.axisBottom(x).tickValues(MPS_TICKS).tickSize(0).tickPadding(0).tickFormat(d => String(d));
  const gx = g.append("g").attr("transform","translate(0,331)").call(xAxis);
  gx.select(".domain").remove();
  gx.selectAll("text").style("font-family",FONT).style("font-size","20px").attr("fill","#000");

  const yAxis = d3.axisLeft(y).tickValues(p.ticks).tickSize(0).tickPadding(0)
    .tickFormat((d, k) => p.labels ? p.labels[k] : String(d));
  const gy = g.append("g").attr("transform","translate(82,0)").call(yAxis);
  gy.select(".domain").remove();
  gy.selectAll("text").style("font-family",FONT).style("font-size","20px").attr("fill","#000").attr("dy","0.36em");

  // axis titles
  g.append("text").attr("x",259.5).attr("y",376).attr("text-anchor","middle")
    .style("font-family",FONT).style("font-size","16px").attr("fill","#000").text(X_NAME);
  g.append("text").attr("transform",`translate(${YTITLE_X[i]+6},150) rotate(-90)`).attr("text-anchor","middle")
    .style("font-family",FONT).style("font-size","16px").attr("fill","#000").text(p.name);
});
</script>
</body></html>
